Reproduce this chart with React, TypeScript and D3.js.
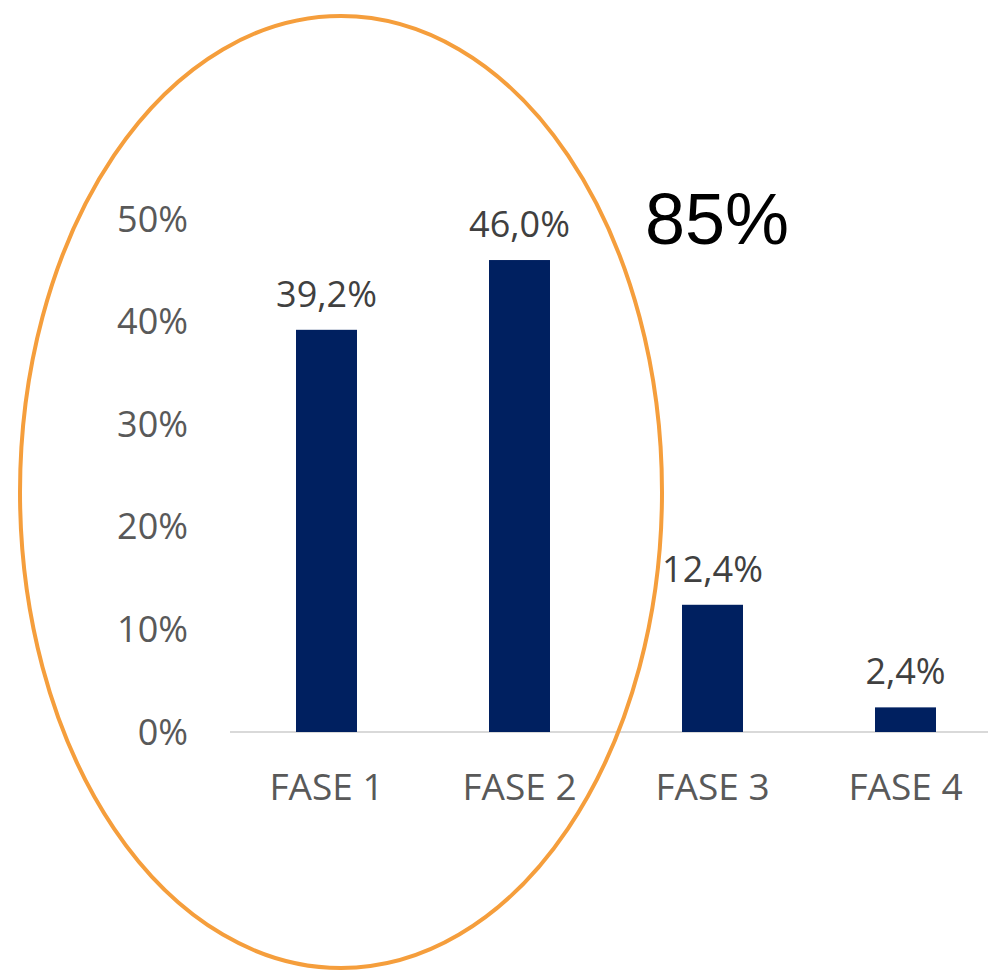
import React from 'react';
import { scaleBand, scaleLinear } from 'd3';

const phases = ['FASE 1', 'FASE 2', 'FASE 3', 'FASE 4'];
const shares = [0.392, 0.46, 0.124, 0.024];
const shareLabels = ['39,2%', '46,0%', '12,4%', '2,4%'];
const yTicks = [0, 0.1, 0.2, 0.3, 0.4, 0.5];
const highlight = '85%';

const W = 988;
const H = 970;

export default function App() {
    const x = scaleBand<string>().domain(phases).range([230, 1002]).paddingInner(0.684).paddingOuter(0.342);
    const y = scaleLinear().domain([0, 0.5]).range([732, 219]);
    const font = '"Open Sans", sans-serif';

    return (
        <svg width={W} height={H} style={{ position: 'absolute', left: 0, top: 0, background: '#fff' }}>
            {/* y ticks */}
            {yTicks.map(t => (
                <text key={t} x={188} y={y(t)} dy="0.35em" textAnchor="end" fontFamily={font} fontSize={36} fill="#595959">
                    {Math.round(t * 100) + '%'}
                </text>
            ))}
            <line x1={230} x2={1002} y1={y(0)} y2={y(0)} stroke="#d9d9d9" strokeWidth={2} />
            {phases.map((p, i) => (
                <g key={p}>
                    <rect x={x(p)} width={x.bandwidth()} y={y(shares[i])} height={y(0) - y(shares[i])} fill="#002060" />
                    <text x={x(p)! + x.bandwidth() / 2} y={y(shares[i]) - 23} textAnchor="middle" fontFamily={font} fontSize={36} fill="#404040">
                        {shareLabels[i]}
                    </text>
                    <text x={x(p)! + x.bandwidth() / 2} y={800} textAnchor="middle" fontFamily={font} fontSize={37} fill="#595959">
                        {p}
                    </text>
                </g>
            ))}
            <ellipse cx={341} cy={492} rx={321} ry={476} fill="none" stroke="#F59E3C" strokeWidth={4} />
            <text x={645} y={244} fontFamily='"Liberation Sans", Arial, sans-serif' fontSize={72} fill="#000">
                {highlight}
            </text>
        </svg>
    );
}
